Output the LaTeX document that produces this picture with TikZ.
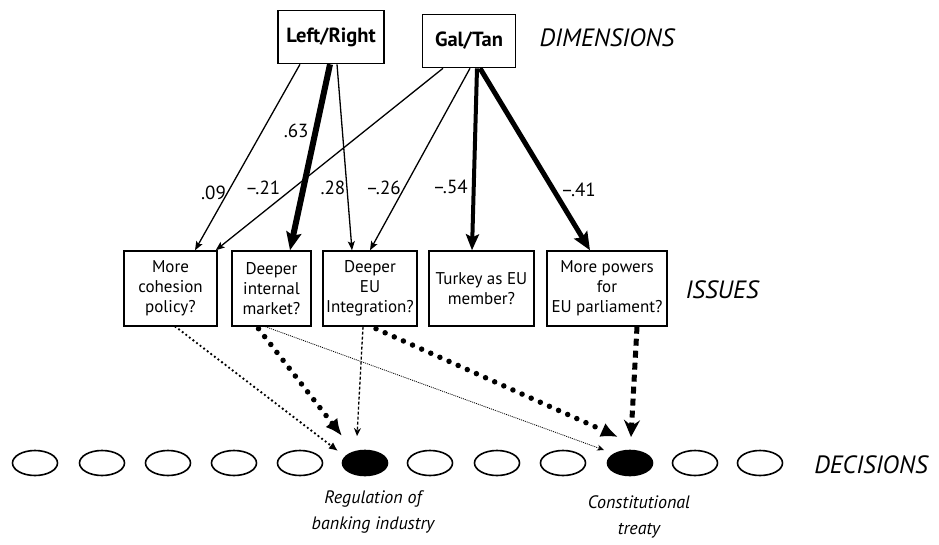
\documentclass[tikz,border=0pt]{standalone}
\usepackage{fontspec}
\setmainfont{PT Sans}
\usetikzlibrary{arrows.meta,calc,shapes.geometric}
\begin{document}
\begin{tikzpicture}[x=1pt,y=-1pt,
  dimbox/.style={draw,line width=1.6pt,minimum height=53pt,inner sep=2pt,font=\fontsize{20.5}{24}\selectfont\bfseries},
  issuebox/.style={draw,line width=1.4pt,minimum height=75pt,align=center,inner sep=2pt,font=\fontsize{17}{20}\selectfont},
  levellabel/.style={font=\fontsize{25}{28}\selectfont\itshape},
  declabel/.style={align=center,font=\fontsize{18}{26}\selectfont\itshape,inner sep=0pt},
  dec/.style={ellipse,draw,line width=1.6pt,minimum width=45pt,minimum height=25pt,inner sep=0pt},
  decsel/.style={dec,fill=black},
  coef/.style={font=\fontsize{19}{21}\selectfont,inner sep=1pt},
  thinarr/.style={line width=1.3pt,-{Stealth[length=9pt,width=7pt,inset=2pt]}},
  thickarr/.style={line width=#1,-{Stealth[length=18pt,width=15pt,inset=3pt]}},
  dotsmall/.style={line width=2.6pt,line cap=round,dash pattern=on 0pt off 4.5pt,-{Latex[length=9pt,width=8pt]}},
  dotbig/.style={line width=5.5pt,line cap=round,dash pattern=on 0pt off 10pt,-{Latex[length=17pt,width=15pt]}},
  dashsmall/.style={line width=1.3pt,dash pattern=on 3pt off 2pt,-{Stealth[length=8pt,width=7pt]}},
  dotfine/.style={line width=0.8pt,dash pattern=on 1pt off 1pt,-{Stealth[length=7pt,width=6pt]}},
  dashbig/.style={line width=5pt,dash pattern=on 7pt off 5pt,-{Stealth[length=17pt,width=16pt,inset=6pt]}}
]
\useasboundingbox[fill=white] (0,0) rectangle (939,544);

% dimensions
\node[dimbox,minimum width=106pt] (LR) at (331,37) {Left/Right};
\node[dimbox,minimum width=93pt] (GT) at (469,41) {Gal/Tan};
\node[levellabel] (dimlab) at (607,38) {DIMENSIONS};

% issues
\node[issuebox,minimum width=93pt] (coh) at (170.5,288.5) {More\\cohesion\\policy?};
\node[issuebox,minimum width=79pt] (ima) at (271.5,288.5) {Deeper\\internal\\market?};
\node[issuebox,minimum width=94pt] (eui) at (370,288.5) {Deeper\\EU\\Integration?};
\node[issuebox,minimum width=105pt] (tur) at (481.5,288.5) {Turkey as EU\\member?};
\node[issuebox,minimum width=120pt] (mpw) at (607,288.5) {More powers\\for\\EU parliament?};
\node[levellabel] (isslab) at (722,290) {ISSUES};

% decisions
\foreach \i/\x in {1/35,2/102,3/168,4/234,5/300,7/430,8/497,9/563,11/695,12/760}
  \node[dec] (E\i) at (\x,463) {};
\node[decsel] (E6) at (365,463) {};
\node[decsel] (E10) at (630,463) {};
\node[levellabel] (declab) at (871,465) {DECISIONS};
\node[declabel,anchor=north] (reg) at ($(E6.south)+(8,14)$) {Regulation of\\banking industry};
\node[declabel,anchor=north] (con) at ($(E10.south)+(9,19)$) {Constitutional\\treaty};

% dimension -> issue
\draw[thinarr] ($(LR.south)+(-31,0)$) -- node[coef,pos=0.69,left] {.09} ($(coh.north)+(24.5,0)$);
\draw[thickarr=6pt] ($(LR.south)+(-1,0)$) -- node[coef,pos=0.36,left=3pt] {.63} ($(ima.north)+(18.5,0)$);
\draw[thinarr] ($(LR.south)+(6,0)$) -- node[coef,pos=0.665,left] {.28} ($(eui.north)+(-18,0)$);
\draw[thinarr] ($(GT.south)+(-26,0)$) -- node[coef,pos=0.656,left=12pt] {--.21} ($(coh.north east)+(-2,0)$);
\draw[thinarr] ($(GT.south)+(1,0)$) -- node[coef,pos=0.656,left=2pt] {--.26} (eui.north);
\draw[line width=4pt,-{Stealth[length=16pt,width=13pt,inset=3pt]}] ($(GT.south)+(8,0)$) -- node[coef,pos=0.65,left=3pt] {--.54} ($(tur.north)+(-9.5,0)$);
\draw[thickarr=5pt] ($(GT.south)+(11,0)$) -- node[coef,pos=0.667,right=4pt] {--.41} ($(mpw.north)+(-17,0)$);

% issue -> decision
\draw[dotsmall] ($(coh.south)+(5,0)$) -- ($(E6.center)+(-27,-12)$);
\draw[dotbig] ($(ima.south)+(-13,2)$) -- ($(E6.center)+(-23,-27)$);
\draw[dashsmall] ($(eui.south)+(-7,0)$) -- ($(E6.center)+(-8,-27)$);
\draw[dotfine] ($(ima.south)+(-6,0)$) -- ($(E10.center)+(-26,-13)$);
\draw[dotbig] ($(eui.south)+(6,2)$) -- ($(E10.center)+(-12,-26)$);
\draw[dashbig] ($(mpw.south)+(30,0)$) -- ($(E10.center)+(1,-26)$);
\end{tikzpicture}
\end{document}
